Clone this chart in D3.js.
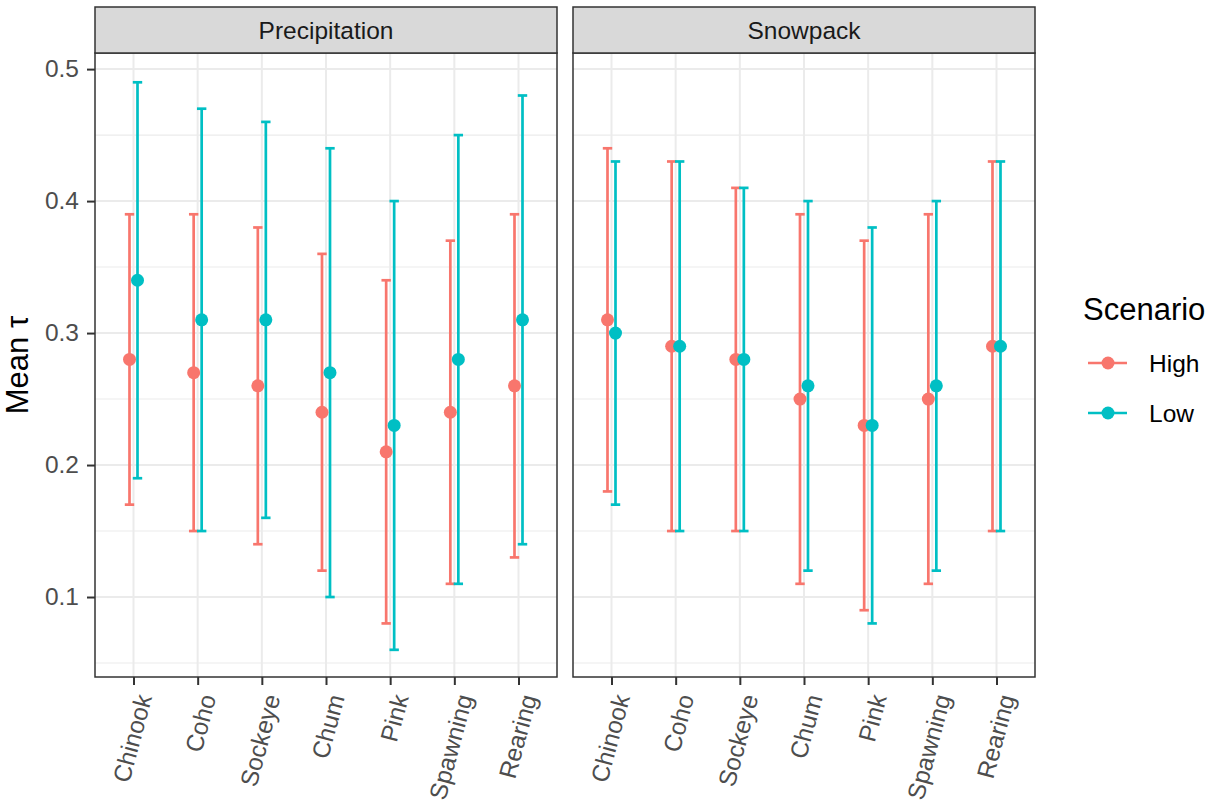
<!DOCTYPE html>
<html>
<head>
<meta charset="utf-8">
<script src="https://cdn.jsdelivr.net/npm/d3@7"></script>
<style>
  body { margin: 0; background: #fff; }
  svg { display: block; font-family: "Liberation Sans", Arial, sans-serif; }
</style>
</head>
<body>
<svg id="chart" width="1214" height="803"></svg>
<script>
// Categories, facets and scenarios
const groups = ["Chinook", "Coho", "Sockeye", "Chum", "Pink", "Spawning", "Rearing"];
const facets = ["Precipitation", "Snowpack"];
const scenarios = ["High", "Low"];
const yTicks = [0.1, 0.2, 0.3, 0.4, 0.5];

// Mean tau with lower / upper interval, one array per facet x scenario
const precipHighMean  = [0.28, 0.27, 0.26, 0.24, 0.21, 0.24, 0.26];
const precipHighLower = [0.17, 0.15, 0.14, 0.12, 0.08, 0.11, 0.13];
const precipHighUpper = [0.39, 0.39, 0.38, 0.36, 0.34, 0.37, 0.39];
const precipLowMean   = [0.34, 0.31, 0.31, 0.27, 0.23, 0.28, 0.31];
const precipLowLower  = [0.19, 0.15, 0.16, 0.10, 0.06, 0.11, 0.14];
const precipLowUpper  = [0.49, 0.47, 0.46, 0.44, 0.40, 0.45, 0.48];

const snowHighMean  = [0.31, 0.29, 0.28, 0.25, 0.23, 0.25, 0.29];
const snowHighLower = [0.18, 0.15, 0.15, 0.11, 0.09, 0.11, 0.15];
const snowHighUpper = [0.44, 0.43, 0.41, 0.39, 0.37, 0.39, 0.43];
const snowLowMean   = [0.30, 0.29, 0.28, 0.26, 0.23, 0.26, 0.29];
const snowLowLower  = [0.17, 0.15, 0.15, 0.12, 0.08, 0.12, 0.15];
const snowLowUpper  = [0.43, 0.43, 0.41, 0.40, 0.38, 0.40, 0.43];

const colors = { High: "#F8766D", Low: "#00BFC4" };

function rows(facet, scenario, mean, lower, upper) {
  return groups.map((g, i) => ({ facet, scenario, group: g, mean: mean[i], lower: lower[i], upper: upper[i] }));
}
const data = [
  ...rows("Precipitation", "High", precipHighMean, precipHighLower, precipHighUpper),
  ...rows("Precipitation", "Low", precipLowMean, precipLowLower, precipLowUpper),
  ...rows("Snowpack", "High", snowHighMean, snowHighLower, snowHighUpper),
  ...rows("Snowpack", "Low", snowLowMean, snowLowLower, snowLowUpper)
];

const svg = d3.select("#chart");

// Layout
const panelTop = 53, panelBottom = 677;
const stripTop = 7;
const panelLefts = { Precipitation: 95, Snowpack: 573 };
const panelWidth = 462;
const textSize = 24.5, titleSize = 31;

const y = d3.scaleLinear().domain([0.0394, 0.5122]).range([panelBottom, panelTop]);
const minorTicks = [0.05, 0.15, 0.25, 0.35, 0.45];

const dodge = d3.scaleBand().domain(scenarios).range([-8, 8]);

facets.forEach(facet => {
  const left = panelLefts[facet];
  const x = d3.scalePoint().domain(groups).range([left, left + panelWidth]).padding(0.6);
  const g = svg.append("g");

  // grid
  g.selectAll(".ymin").data(minorTicks).join("line")
    .attr("x1", left).attr("x2", left + panelWidth)
    .attr("y1", d => y(d)).attr("y2", d => y(d))
    .attr("stroke", "#EBEBEB").attr("stroke-width", 1.1);
  g.selectAll(".ymaj").data(yTicks).join("line")
    .attr("x1", left).attr("x2", left + panelWidth)
    .attr("y1", d => y(d)).attr("y2", d => y(d))
    .attr("stroke", "#EBEBEB").attr("stroke-width", 2);
  g.selectAll(".xmaj").data(groups).join("line")
    .attr("x1", d => x(d)).attr("x2", d => x(d))
    .attr("y1", panelTop).attr("y2", panelBottom)
    .attr("stroke", "#EBEBEB").attr("stroke-width", 2);

  // error bars and points
  const sub = data.filter(d => d.facet === facet);
  const cx = d => x(d.group) + dodge(d.scenario) + dodge.bandwidth() / 2;
  const capHalf = 4.7;
  const eb = g.selectAll(".eb").data(sub).join("g").attr("stroke", d => colors[d.scenario]).attr("stroke-width", 2.7);
  eb.append("line").attr("x1", cx).attr("x2", cx).attr("y1", d => y(d.lower)).attr("y2", d => y(d.upper));
  eb.append("line").attr("x1", d => cx(d) - capHalf).attr("x2", d => cx(d) + capHalf).attr("y1", d => y(d.lower)).attr("y2", d => y(d.lower));
  eb.append("line").attr("x1", d => cx(d) - capHalf).attr("x2", d => cx(d) + capHalf).attr("y1", d => y(d.upper)).attr("y2", d => y(d.upper));
  g.selectAll(".pt").data(sub).join("circle")
    .attr("cx", cx).attr("cy", d => y(d.mean)).attr("r", 6.5)
    .attr("fill", d => colors[d.scenario]);

  // panel border
  g.append("rect").attr("x", left).attr("y", panelTop).attr("width", panelWidth).attr("height", panelBottom - panelTop)
    .attr("fill", "none").attr("stroke", "#333333").attr("stroke-width", 1.5);

  // strip
  g.append("rect").attr("x", left).attr("y", stripTop).attr("width", panelWidth).attr("height", panelTop - stripTop)
    .attr("fill", "#D9D9D9").attr("stroke", "#333333").attr("stroke-width", 1.5);
  g.append("text").attr("x", left + panelWidth / 2).attr("y", 39)
    .attr("text-anchor", "middle")
    .attr("font-size", textSize).attr("fill", "#1A1A1A").text(facet);

  // x axis
  const xa = g.append("g").attr("transform", `translate(0,${panelBottom})`)
    .call(d3.axisBottom(x).tickSize(8).tickPadding(4));
  xa.select(".domain").remove();
  xa.selectAll(".tick line").attr("stroke", "#333333").attr("stroke-width", 2);
  xa.selectAll(".tick text")
    .attr("font-size", textSize).attr("fill", "#4D4D4D")
    .attr("text-anchor", "end").attr("dy", null).attr("y", 0)
    .attr("transform", "translate(10,18) rotate(-75)")
    .attr("dominant-baseline", "central");
});

// y axis
const ya = svg.append("g").attr("transform", `translate(${panelLefts.Precipitation},0)`)
  .call(d3.axisLeft(y).tickValues(yTicks).tickFormat(d3.format(".1f")).tickSize(8).tickPadding(8));
ya.select(".domain").remove();
ya.selectAll(".tick line").attr("stroke", "#333333").attr("stroke-width", 2);
ya.selectAll(".tick text").attr("font-size", textSize).attr("fill", "#4D4D4D");

svg.append("text")
  .attr("transform", `translate(28,${(panelTop + panelBottom) / 2}) rotate(-90)`)
  .attr("text-anchor", "middle").attr("font-size", titleSize).attr("fill", "#000")
  .text("Mean τ");

// legend
const legend = svg.append("g").attr("transform", "translate(1083,0)");
legend.append("text").attr("x", 0).attr("y", 320).attr("font-size", titleSize).attr("fill", "#000").text("Scenario");
scenarios.forEach((s, i) => {
  const ky = 363 + i * 50;
  legend.append("line").attr("x1", 5).attr("x2", 44).attr("y1", ky).attr("y2", ky)
    .attr("stroke", colors[s]).attr("stroke-width", 2.7);
  legend.append("circle").attr("cx", 25).attr("cy", ky).attr("r", 6.5).attr("fill", colors[s]);
  legend.append("text").attr("x", 66).attr("y", ky).attr("dominant-baseline", "central")
    .attr("font-size", textSize).attr("fill", "#000").text(s);
});
</script>
</body>
</html>
